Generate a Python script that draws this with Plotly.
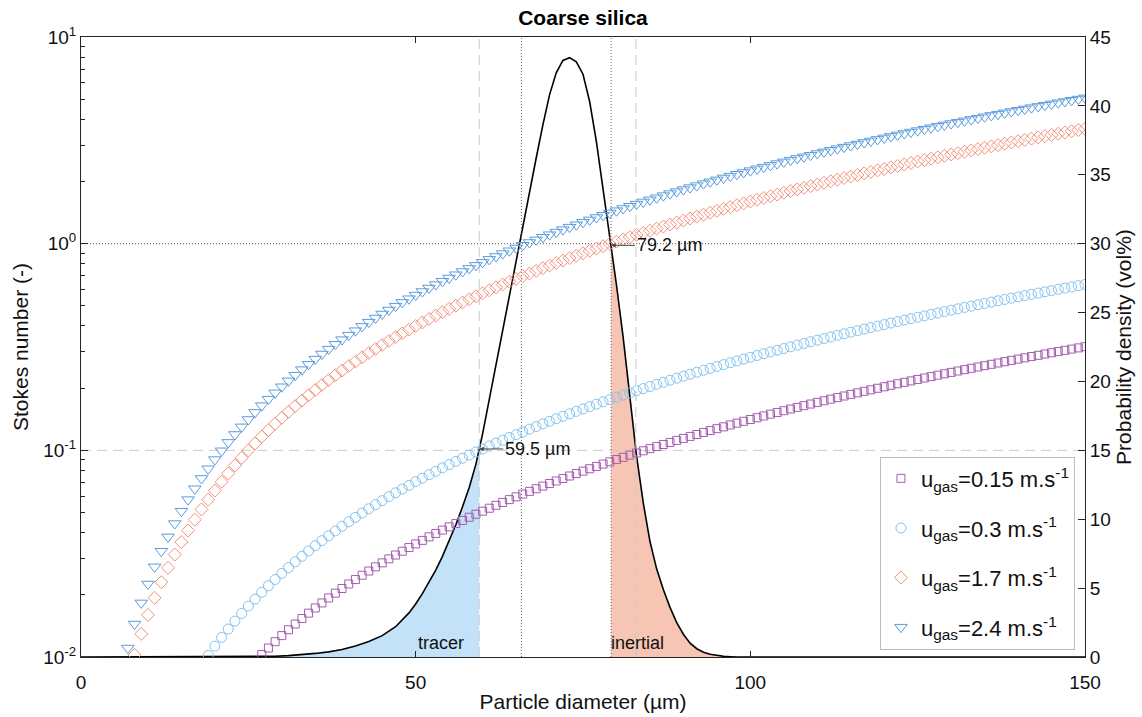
import numpy as np
import plotly.graph_objects as go

# ---------------- data ----------------
diameter_um = list(range(1, 151))  # particle diameters (µm), 1 µm step

# Stokes number per gas velocity (points below 1e-2 are off-axis)
st_u015 = [0.01028, 0.01105, 0.01186, 0.01269, 0.01355, 0.01444, 0.01535, 0.0163, 0.01727, 0.01827,
           0.0193, 0.02036, 0.02145, 0.02256, 0.0237, 0.02487, 0.02607, 0.0273, 0.02855, 0.02984,
           0.03115, 0.03249, 0.03385, 0.03525, 0.03667, 0.03813, 0.03961, 0.04112, 0.04265, 0.04422,
           0.04581, 0.04743, 0.04908, 0.05076, 0.05247, 0.0542, 0.05596, 0.05775, 0.05957, 0.06142,
           0.06329, 0.0652, 0.06713, 0.06909, 0.07108, 0.07309, 0.07514, 0.07721, 0.07931, 0.08144,
           0.0836, 0.08578, 0.088, 0.09024, 0.09251, 0.09481, 0.09713, 0.09949, 0.1019, 0.1043,
           0.1067, 0.1092, 0.1117, 0.1142, 0.1168, 0.1193, 0.122, 0.1246, 0.1273, 0.1299,
           0.1327, 0.1354, 0.1382, 0.141, 0.1438, 0.1467, 0.1496, 0.1525, 0.1555, 0.1584,
           0.1614, 0.1645, 0.1675, 0.1706, 0.1737, 0.1769, 0.18, 0.1832, 0.1865, 0.1897,
           0.193, 0.1963, 0.1997, 0.203, 0.2064, 0.2099, 0.2133, 0.2168, 0.2203, 0.2239,
           0.2274, 0.231, 0.2346, 0.2383, 0.242, 0.2457, 0.2494, 0.2532, 0.257, 0.2608,
           0.2646, 0.2685, 0.2724, 0.2764, 0.2803, 0.2843, 0.2883, 0.2924, 0.2965, 0.3006,
           0.3047, 0.3089, 0.313, 0.3173]

st_u03 = [0.01018, 0.01128, 0.01244, 0.01365, 0.01492, 0.01624, 0.01763, 0.01906,
          0.02056, 0.0221, 0.02372, 0.02538, 0.0271, 0.02888, 0.0307, 0.0326, 0.03454, 0.03654,
          0.0386, 0.04072, 0.0429, 0.04512, 0.0474, 0.04974, 0.05214, 0.0546, 0.0571, 0.05968,
          0.0623, 0.06498, 0.0677, 0.0705, 0.07334, 0.07626, 0.07922, 0.08224, 0.0853, 0.08844,
          0.09162, 0.09486, 0.09816, 0.1015, 0.1049, 0.1084, 0.1119, 0.1155, 0.1191, 0.1228,
          0.1266, 0.1304, 0.1343, 0.1382, 0.1422, 0.1462, 0.1503, 0.1544, 0.1586, 0.1629,
          0.1672, 0.1716, 0.176, 0.1805, 0.185, 0.1896, 0.1943, 0.199, 0.2037, 0.2086,
          0.2134, 0.2184, 0.2234, 0.2284, 0.2335, 0.2387, 0.2439, 0.2492, 0.2545, 0.2599,
          0.2653, 0.2708, 0.2764, 0.282, 0.2877, 0.2934, 0.2992, 0.305, 0.3109, 0.3169,
          0.3229, 0.3289, 0.335, 0.3412, 0.3475, 0.3537, 0.3601, 0.3665, 0.3729, 0.3795,
          0.386, 0.3927, 0.3993, 0.4061, 0.4129, 0.4197, 0.4266, 0.4336, 0.4406, 0.4477,
          0.4548, 0.462, 0.4693, 0.4766, 0.4839, 0.4914, 0.4988, 0.5064, 0.5139, 0.5216,
          0.5293, 0.537, 0.5449, 0.5527, 0.5606, 0.5686, 0.5767, 0.5848, 0.5929, 0.6011,
          0.6094, 0.6177, 0.6261, 0.6345]

st_u17 = [0.01023, 0.01294, 0.01598, 0.01934, 0.02301, 0.02701, 0.03132, 0.03596, 0.04091,
          0.04618, 0.05178, 0.05769, 0.06392, 0.07047, 0.07734, 0.08453, 0.09204, 0.09988, 0.108,
          0.1165, 0.1253, 0.1344, 0.1438, 0.1536, 0.1636, 0.174, 0.1847, 0.1958, 0.2071,
          0.2188, 0.2308, 0.2431, 0.2557, 0.2686, 0.2819, 0.2955, 0.3094, 0.3236, 0.3381,
          0.353, 0.3682, 0.3837, 0.3995, 0.4156, 0.4321, 0.4489, 0.466, 0.4834, 0.5011,
          0.5192, 0.5376, 0.5563, 0.5753, 0.5946, 0.6143, 0.6343, 0.6545, 0.6752, 0.6961,
          0.7173, 0.7389, 0.7608, 0.783, 0.8056, 0.8284, 0.8516, 0.8751, 0.8989, 0.923,
          0.9475, 0.9722, 0.9973, 1.023, 1.048, 1.075, 1.101, 1.128, 1.155, 1.182,
          1.21, 1.237, 1.266, 1.294, 1.323, 1.353, 1.382, 1.412, 1.442, 1.473,
          1.504, 1.535, 1.566, 1.598, 1.63, 1.663, 1.695, 1.728, 1.762, 1.796,
          1.83, 1.864, 1.899, 1.934, 1.969, 2.005, 2.04, 2.077, 2.113, 2.15,
          2.188, 2.225, 2.263, 2.301, 2.34, 2.378, 2.418, 2.457, 2.497, 2.537,
          2.577, 2.618, 2.659, 2.701, 2.742, 2.784, 2.827, 2.869, 2.912, 2.956,
          2.999, 3.043, 3.088, 3.132, 3.177, 3.222, 3.268, 3.314, 3.36, 3.406,
          3.453, 3.5, 3.548, 3.596]

st_u24 = [0.01105, 0.01444, 0.01827, 0.02256, 0.0273, 0.03249, 0.03813, 0.04422, 0.05076, 0.05775,
          0.0652, 0.07309, 0.08144, 0.09024, 0.09949, 0.1092, 0.1193, 0.1299, 0.141, 0.1525,
          0.1645, 0.1769, 0.1897, 0.203, 0.2168, 0.231, 0.2457, 0.2608, 0.2764, 0.2924,
          0.3089, 0.3258, 0.3432, 0.361, 0.3792, 0.3979, 0.4171, 0.4368, 0.4568, 0.4774,
          0.4984, 0.5198, 0.5416, 0.564, 0.5867, 0.6101, 0.6338, 0.6579, 0.6824, 0.7075,
          0.733, 0.7589, 0.7853, 0.8122, 0.8395, 0.8672, 0.8954, 0.924, 0.9531, 0.9827,
          1.013, 1.043, 1.074, 1.105, 1.137, 1.169, 1.202, 1.235, 1.269, 1.303,
          1.338, 1.372, 1.408, 1.444, 1.48, 1.517, 1.554, 1.592, 1.63, 1.668,
          1.708, 1.747, 1.787, 1.827, 1.868, 1.909, 1.951, 1.993, 2.036, 2.079,
          2.123, 2.167, 2.211, 2.256, 2.301, 2.347, 2.393, 2.44, 2.487, 2.535,
          2.583, 2.631, 2.68, 2.73, 2.78, 2.83, 2.881, 2.932, 2.984, 3.036,
          3.088, 3.141, 3.195, 3.249, 3.303, 3.358, 3.413, 3.469, 3.525, 3.582,
          3.639, 3.696, 3.754, 3.813, 3.872, 3.931, 3.991, 4.051, 4.112, 4.173,
          4.234, 4.296, 4.359, 4.422, 4.485, 4.549, 4.613, 4.678, 4.743, 4.809,
          4.875, 4.942, 5.008, 5.076]

series_names = ["u<sub>gas</sub>=0.15 m.s<sup>-1</sup>", "u<sub>gas</sub>=0.3 m.s<sup>-1</sup>",
                "u<sub>gas</sub>=1.7 m.s<sup>-1</sup>", "u<sub>gas</sub>=2.4 m.s<sup>-1</sup>"]

# particle size distribution (vol%)
pdf_d = [0, 24, 27, 29, 31, 33, 35, 37, 39, 41, 43, 45, 47, 49, 50, 51, 52, 53, 54, 55, 56, 57, 58, 59,
         60, 61, 62, 63, 64, 65, 66, 67, 68, 69, 70, 71, 72, 73, 74, 75, 76, 77, 78, 79, 80, 81, 82, 83,
         84, 85, 86, 87, 88, 89, 90, 91, 92, 93, 94, 95, 96, 97, 98, 150]
pdf_v = [0, 0, 0.02, 0.05, 0.1, 0.17, 0.26, 0.37, 0.55, 0.8, 1.12, 1.55, 2.2, 3.2, 3.85, 4.6, 5.4, 6.3, 7.3,
         8.4, 9.6, 10.9, 12.3, 14.0, 16.2, 18.7, 21.2, 23.8, 26.4, 28.9, 31.4, 33.9, 36.2, 38.6, 40.8, 42.4,
         43.3, 43.5, 43.2, 42.3, 40.3, 37.4, 34.0, 30.6, 27.0, 23.2, 18.8, 14.6, 11.2, 8.4, 6.4, 4.9, 3.6,
         2.5, 1.65, 1.0, 0.6, 0.35, 0.2, 0.1, 0.05, 0.02, 0, 0]

d_tracer = 59.5     # St = 0.1 limit
d_inertial = 79.2   # St = 1 limit
st_thresholds = [1.0, 0.1]
dotted_d = [65.8, 79.2]
dashed_d = [59.5, 82.9]

x_ticks = [0, 50, 100, 150]
st_ticks = [0.01, 0.1, 1, 10]
st_ticktext = ["10<sup>-2</sup>", "10<sup>-1</sup>", "10<sup>0</sup>", "10<sup>1</sup>"]
pdf_ticks = [0, 5, 10, 15, 20, 25, 30, 35, 40, 45]

# ---------------- figure ----------------
FONT = "Liberation Sans, Arial, Helvetica, sans-serif"
fig = go.Figure()

pdf_d_arr = np.array(pdf_d, dtype=float)
pdf_v_arr = np.array(pdf_v, dtype=float)
v_tr = float(np.interp(d_tracer, pdf_d_arr, pdf_v_arr))
v_in = float(np.interp(d_inertial, pdf_d_arr, pdf_v_arr))
m_tr = pdf_d_arr < d_tracer
m_in = pdf_d_arr > d_inertial

fig.add_trace(go.Scatter(x=list(pdf_d_arr[m_tr]) + [d_tracer], y=list(pdf_v_arr[m_tr]) + [v_tr],
                         mode="lines", line=dict(width=0), fill="tozeroy", fillcolor="#C3E2F8",
                         yaxis="y", showlegend=False, hoverinfo="skip"))
fig.add_trace(go.Scatter(x=[d_inertial] + list(pdf_d_arr[m_in]), y=[v_in] + list(pdf_v_arr[m_in]),
                         mode="lines", line=dict(width=0), fill="tozeroy", fillcolor="#F7C5B3",
                         yaxis="y", showlegend=False, hoverinfo="skip"))
fig.add_trace(go.Scatter(x=pdf_d, y=pdf_v, mode="lines", line=dict(color="black", width=1.6),
                         yaxis="y", showlegend=False))

# reference lines on Stokes axis
for st in st_thresholds:
    fig.add_trace(go.Scatter(x=[0, 150], y=[st, st], mode="lines", yaxis="y2", showlegend=False,
                             line=dict(color="#555555" if st == 1.0 else "#CCCCCC", width=1,
                                       dash="1px,2px" if st == 1.0 else "10px,6px"),
                             hoverinfo="skip"))
for d in dotted_d:
    fig.add_trace(go.Scatter(x=[d, d], y=[0.01, 10], mode="lines", yaxis="y2", showlegend=False,
                             line=dict(color="#666666", width=1, dash="1px,2px"), hoverinfo="skip"))
for d in dashed_d:
    fig.add_trace(go.Scatter(x=[d, d], y=[0.01, 10], mode="lines", yaxis="y2", showlegend=False,
                             line=dict(color="#C8C8C8", width=1, dash="10px,6px"), hoverinfo="skip"))

styles = [("square-open", 8, "#A45CB0"), ("circle-open", 10, "#82C3EF"),
          ("diamond-open", 10, "#F49079"), ("triangle-down-open", 11, "#5A9BDD")]
for i, (name, st, (sym, size, col)) in enumerate(zip(series_names, [st_u015, st_u03, st_u17, st_u24], styles)):
    fig.add_trace(go.Scatter(x=diameter_um[-len(st):], y=st, mode="markers", name=name, yaxis="y2",
                             legendgroup=f"g{i}",
                             marker=dict(symbol=sym, size=size, color=col, line=dict(width=1, color=col))))

axis_common = dict(showline=True, linecolor="#262626", linewidth=1, ticks="inside", tickcolor="#262626",
                   tickfont=dict(size=19, color="#111111", family=FONT), showgrid=False, zeroline=False,
                   automargin=False)

fig.update_layout(
    width=1142, height=717,
    margin=dict(l=81, r=57, t=37, b=60),
    paper_bgcolor="white", plot_bgcolor="white",
    font=dict(family=FONT, color="#111111"),
    title=dict(text="<b>Coarse silica</b>", x=0.5, xref="paper", xanchor="center",
               y=1 - 18 / 717, yref="container", yanchor="middle", font=dict(size=21, color="black")),
    xaxis=dict(range=[0, 150], tickvals=x_ticks, ticklen=6, mirror="ticks", ticklabelstandoff=8,
               title=dict(text="Particle diameter (µm)", font=dict(size=21), standoff=2), **axis_common),
    yaxis=dict(range=[0, 45], tickvals=pdf_ticks, side="right", ticklen=7,
               title=dict(text="Probability density (vol%)", font=dict(size=21), standoff=6), **axis_common),
    yaxis2=dict(type="log", range=[-2, 1], overlaying="y", side="left", anchor="x",
                tickvals=st_ticks, ticktext=st_ticktext, ticklen=7,
                minor=dict(ticks="inside", ticklen=4, tickcolor="#262626", tickmode="array",
                           tickvals=[m * 10.0 ** e for e in (-2, -1, 0) for m in range(2, 10)]),
                title=dict(text="Stokes number (-)", font=dict(size=21), standoff=8), **axis_common),
    legend=dict(x=0.99, y=0.012, xanchor="right", yanchor="bottom", bgcolor="white",
                bordercolor="#BBBBBB", borderwidth=1, font=dict(size=22, family=FONT, color="#111111"),
                itemsizing="trace", tracegroupgap=18, itemwidth=30),
    showlegend=True,
)

arrow = dict(showarrow=True, arrowhead=2, arrowsize=0.9, arrowwidth=1, arrowcolor="#444444",
             ay=0, font=dict(size=18, family=FONT, color="#111111"), xref="x", yref="y")
fig.add_annotation(x=d_tracer, y=v_tr, text="59.5 µm", ax=58, **arrow)
fig.add_annotation(x=d_inertial, y=v_in, text="79.2 µm", ax=58, **arrow)
fig.add_annotation(x=53.8, y=1.0, text="tracer", showarrow=False, xref="x", yref="y",
                   font=dict(size=18, family=FONT, color="#111111"))
fig.add_annotation(x=83.2, y=1.0, text="inertial", showarrow=False, xref="x", yref="y",
                   font=dict(size=18, family=FONT, color="#111111"))

fig.write_html("out.html", config={"displayModeBar": False},
               post_script="document.body.style.margin='0';document.body.style.overflow='hidden';")
